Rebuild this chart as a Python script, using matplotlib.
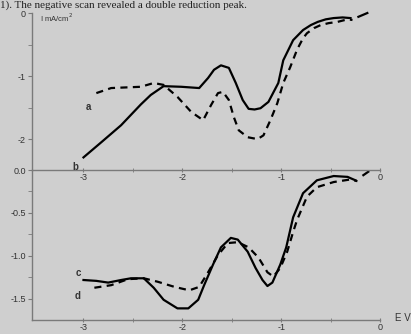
import numpy as np
import matplotlib.pyplot as plt

# top panel (I in mA/cm2 vs E in V)
a_E = [-2.87, -2.72, -2.42, -2.29, -2.19, -2.05, -1.91, -1.79, -1.71, -1.64, -1.59,
       -1.53, -1.48, -1.43, -1.34, -1.24, -1.18, -1.11, -1.04, -0.98, -0.91, -0.84,
       -0.78, -0.74, -0.67, -0.60, -0.52, -0.43, -0.33, -0.28]
a_I = [-1.27, -1.19, -1.17, -1.11, -1.14, -1.33, -1.57, -1.70, -1.46, -1.27, -1.25,
       -1.38, -1.65, -1.86, -1.97, -2.00, -1.94, -1.70, -1.43, -1.11, -0.86, -0.58,
       -0.40, -0.32, -0.24, -0.19, -0.16, -0.14, -0.10, -0.11]
a_tail_E = [-0.22, -0.13]
a_tail_I = [-0.06, 0.00]

b_E = [-3.00, -2.82, -2.62, -2.42, -2.32, -2.19, -2.01, -1.83, -1.74, -1.68, -1.61,
       -1.53, -1.46, -1.39, -1.33, -1.27, -1.21, -1.13, -1.03, -0.98, -0.93, -0.88,
       -0.78, -0.70, -0.63, -0.55, -0.47, -0.38, -0.30]
b_I = [-2.29, -2.05, -1.78, -1.45, -1.30, -1.16, -1.17, -1.19, -1.03, -0.90, -0.83,
       -0.87, -1.11, -1.38, -1.52, -1.53, -1.51, -1.41, -1.11, -0.75, -0.59, -0.43,
       -0.27, -0.19, -0.14, -0.10, -0.08, -0.07, -0.08]

# bottom panel
c_E = [-3.00, -2.87, -2.75, -2.62, -2.52, -2.39, -2.29, -2.19, -2.05, -1.94, -1.84,
       -1.78, -1.69, -1.61, -1.51, -1.44, -1.34, -1.26, -1.19, -1.14, -1.09, -1.01,
       -0.95, -0.88, -0.78, -0.64, -0.47, -0.33, -0.25]
c_I = [-1.28, -1.29, -1.31, -1.28, -1.26, -1.26, -1.37, -1.51, -1.61, -1.61, -1.51,
       -1.34, -1.10, -0.90, -0.79, -0.81, -0.95, -1.14, -1.28, -1.35, -1.31, -1.10,
       -0.90, -0.55, -0.27, -0.12, -0.07, -0.08, -0.12]

d_E = [-2.89, -2.72, -2.55, -2.39, -2.25, -2.08, -1.93, -1.83, -1.74, -1.64, -1.54,
       -1.44, -1.33, -1.23, -1.14, -1.08, -1.01, -0.94, -0.88, -0.84, -0.74, -0.64,
       -0.47, -0.30, -0.23]
d_I = [-1.37, -1.34, -1.27, -1.26, -1.30, -1.36, -1.40, -1.36, -1.19, -0.99, -0.85,
       -0.84, -0.90, -1.02, -1.19, -1.24, -1.14, -0.95, -0.72, -0.58, -0.31, -0.20,
       -0.14, -0.11, -0.13]
d_tail_E = [-0.17, -0.12]
d_tail_I = [-0.06, -0.02]

bg = '#cfcfcf'
axc = '#7a7a7a'
txt = '#333333'
plt.rcParams['font.family'] = ['Liberation Sans', 'DejaVu Sans']

fig = plt.figure(figsize=(4.11, 3.34), dpi=100, facecolor=bg)
ax2 = fig.add_axes([0.078, 0.042, 0.847, 0.449])
ax1 = fig.add_axes([0.078, 0.491, 0.847, 0.47])
ax1.set_zorder(2)

for ax in (ax1, ax2):
    ax.patch.set_visible(False)
    for s in ('top', 'right'):
        ax.spines[s].set_visible(False)
    for s in ('left', 'bottom'):
        ax.spines[s].set_color(axc)
        ax.spines[s].set_linewidth(1.0)
    ax.set_xlim(-3.52, 0)
    ax.set_xticks([-3, -2, -1, 0])
    ax.set_xticklabels(['-3', '-2', '-1', '0'])
    ax.set_xticks([-2.5, -1.5, -0.5], minor=True)
    ax.tick_params(axis='x', which='both', direction='inout', length=3, color=axc,
                   labelsize=6.5, labelcolor=txt, pad=1)
    ax.tick_params(axis='y', which='both', direction='out', length=3, color=axc,
                   labelsize=6.5, labelcolor=txt, pad=1.5)

dash = (0, (3.2, 2.4))

ax1.plot(b_E, b_I, color='black', lw=1.6, solid_joinstyle='round', clip_on=False)
ax1.plot(a_E, a_I, color='black', lw=1.6, linestyle=dash, clip_on=False)
ax1.plot(a_tail_E, a_tail_I, color='black', lw=1.6, clip_on=False)
ax1.set_ylim(-2.49, 0)
ax1.set_yticks([0, -1, -2])
ax1.set_yticklabels(['0', '-1', '-2'])
ax1.set_yticks([-0.5, -1.5], minor=True)
ax1.text(-3.44, -0.08, 'I mA/cm$^2$', fontsize=5.5, color=txt, va='center')
ax1.text(-2.95, -1.49, 'a', fontsize=7, color=txt, fontweight='bold', ha='center', va='center')
ax1.text(-3.08, -2.44, 'b', fontsize=7, color=txt, fontweight='bold', ha='center', va='center')

ax2.plot(c_E, c_I, color='black', lw=1.6, solid_joinstyle='round')
ax2.plot(d_E, d_I, color='black', lw=1.6, linestyle=dash)
ax2.plot(d_tail_E, d_tail_I, color='black', lw=1.6)
ax2.set_ylim(-1.745, 0)
ax2.set_yticks([0, -0.5, -1.0, -1.5])
ax2.set_yticklabels(['0.0', '-0.5', '-1.0', '-1.5'])
ax2.set_yticks([-0.25, -0.75, -1.25], minor=True)
ax2.text(-3.05, -1.20, 'c', fontsize=7, color=txt, fontweight='bold', ha='center', va='center')
ax2.text(-3.06, -1.47, 'd', fontsize=7, color=txt, fontweight='bold', ha='center', va='center')

fig.text(395 / 411, 1 - 318 / 334, 'E V', fontsize=7, color=txt, va='center')
fig.text(0.0, 1 - 7.5 / 334, '1). The negative scan revealed a double reduction peak.',
         fontsize=8, family='Liberation Serif', color='#222222', va='baseline')

fig.savefig('out.png', dpi=100, facecolor=bg)
